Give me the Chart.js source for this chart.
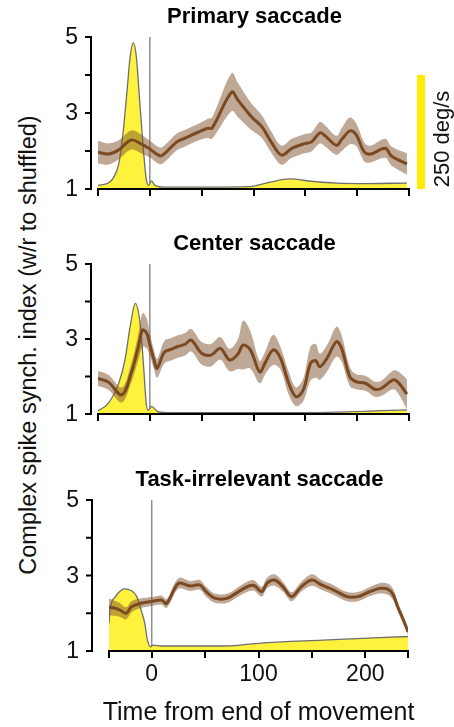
<!DOCTYPE html>
<html lang="en">
<head>
<meta charset="UTF-8">
<title>Complex spike synchrony around saccades</title>
<script src="https://cdn.jsdelivr.net/npm/chart.js"></script>
<style>
    body {
        margin: 0;
        background: #fff;
        width: 454px;
        height: 727px;
        position: relative;
        overflow: hidden;
        font-family: 'Liberation Sans', Arial, Helvetica, sans-serif;
    }
    .panel { position: absolute; left: 0; width: 454px; }
    #box1 { top: 0; height: 203px; }
    #box2 { top: 225px; height: 203px; }
    #box3 { top: 440px; height: 287px; }
    .ytitle {
        position: absolute;
        left: -272px;
        top: 331px;
        width: 600px;
        line-height: 28px;
        text-align: center;
        font-size: 23.5px;
        color: #111;
        transform: rotate(-90deg);
        white-space: nowrap;
    }
</style>
</head>
<body>
<div class="ytitle">Complex spike synch. index (w/r to shuffled)</div>
<div class="panel" id="box1"><canvas id="c1"></canvas></div>
<div class="panel" id="box2"><canvas id="c2"></canvas></div>
<div class="panel" id="box3"><canvas id="c3"></canvas></div>

<script>
// --- data (time in ms from end of movement) ---
const panelTitles = ['Primary saccade', 'Center saccade', 'Task-irrelevant saccade'];
const xTitle = 'Time from end of movement';

const xTicksTop = [-50, 0, 50, 100, 150, 200, 250];
const xTicksBottom = [-40, 0, 50, 100, 150, 200, 240];
const xLabelValues = [0, 100, 200];
const yTicks = [1, 2, 3, 4, 5];
const yLabelValues = [1, 3, 5];

// synchrony index, mean and sem
const p1Time = [-50,-40,-30,-18,-8,0,10,15,26,34,47,56,60,79,85,98,108,117,127,137,150,156,164,169,180,185,193,199,207,213,227,233,248];
const p1Mean = [1.97,1.92,2.03,2.29,2.18,2.05,1.87,1.95,2.24,2.34,2.5,2.6,2.6,3.55,3.34,2.9,2.64,2.24,1.89,2.07,2.2,2.24,2.48,2.4,2.15,2.3,2.53,2.43,1.97,1.92,2.07,1.87,1.66];
const p1Sem = [0.3,0.28,0.25,0.25,0.25,0.22,0.22,0.22,0.22,0.22,0.22,0.25,0.28,0.5,0.45,0.35,0.3,0.28,0.25,0.25,0.25,0.25,0.28,0.28,0.25,0.3,0.35,0.3,0.25,0.22,0.25,0.25,0.28];

const p2Time = [-50,-40,-27,-18,-11,-7,-3,0,4,7,14,20,27,34,40,50,59,68,77,85,90,97,106,111,119,126,134,141,148,155,160,164,171,180,185,193,199,208,217,223,235,240,248];
const p2Mean = [1.95,1.85,1.51,2.09,2.8,3.24,3.15,2.85,2.45,2.22,2.65,2.72,2.8,2.86,2.97,2.62,2.57,2.75,2.44,2.6,2.84,2.71,2.12,2.35,2.71,2.49,1.82,1.46,1.64,2.35,2.42,2.26,2.49,2.93,2.75,1.99,1.86,1.82,1.66,1.68,1.91,1.83,1.53];
const p2Sem = [0.2,0.2,0.2,0.25,0.35,0.45,0.4,0.3,0.25,0.25,0.3,0.3,0.3,0.3,0.3,0.3,0.3,0.3,0.3,0.4,0.65,0.5,0.3,0.3,0.4,0.3,0.3,0.25,0.3,0.45,0.45,0.35,0.35,0.4,0.35,0.25,0.2,0.2,0.2,0.2,0.25,0.3,0.4];

const p3Time = [-40,-30,-24,-19,-11,0,9,14,25,36,45,51,59,71,84,95,103,108,115,123,131,140,150,159,170,183,193,204,214,221,226,230,236,240];
const p3Mean = [2.17,2.09,2.0,2.17,2.26,2.31,2.35,2.26,2.79,2.72,2.75,2.57,2.4,2.4,2.62,2.74,2.57,2.8,2.88,2.7,2.44,2.7,2.88,2.75,2.62,2.44,2.44,2.57,2.66,2.64,2.5,2.2,1.8,1.51];
const p3Sem = [0.22,0.18,0.16,0.15,0.13,0.12,0.12,0.12,0.14,0.13,0.13,0.13,0.12,0.12,0.13,0.14,0.13,0.14,0.15,0.13,0.12,0.13,0.15,0.13,0.13,0.12,0.12,0.12,0.14,0.15,0.15,0.12,0.1,0.08];

// eye velocity (deg/s)
const p1VelTime = [-50,-40,-35,-30,-26,-22,-19,-16,-13,-10,-6,-3.5,-1,1.5,5,15,60,95,114,135,156,180,210,248];
const p1Vel = [8,13,25,55,120,215,290,321,290,200,80,22,8,18,8,4,4,5,14,22,17,13,12,13];

const p2VelTime = [-50,-40,-30,-24,-19,-14,-9,-6,-3.5,-1.5,1.5,8,20,140,248];
const p2Vel = [7,24,68,120,194,246,194,105,24,8,17,5,3,3,9];

const p3VelTime = [-40,-39,-34,-28,-26,-19,-14,-9,-6.5,-4,-1,1,9,66,83,100,160,240];
const p3Vel = [61,91,120,135,137,133,120,83,61,24,9,13,11,11,13,17,24,32];

// the 250 deg/s scale bar spans 3 index units
const barDeg = 250;
const barUnits = 3;
const velToIdx = v => 1 + v * barUnits / barDeg;

const FONT = "'Liberation Sans', Arial, Helvetica, sans-serif";
const BROWN = '#7b4a22';
const BAND = 'rgba(128, 82, 44, 0.5)';
const YELLOW = '#fff23c';

const decor = {
    id: 'decor',
    beforeDatasetsDraw(chart, args, o) {
        const { ctx, scales: { x, y } } = chart;
        const x0 = x.getPixelForValue(0);
        ctx.save();
        ctx.strokeStyle = '#8e8e8e';
        ctx.lineWidth = 1.5;
        ctx.beginPath();
        ctx.moveTo(x0, y.getPixelForValue(5));
        ctx.lineTo(x0, y.getPixelForValue(1));
        ctx.stroke();
        ctx.restore();
    },
    afterDraw(chart, args, o) {
        const { ctx, chartArea: a, scales: { x, y } } = chart;
        const xs = x.getPixelForValue(o.xTicks[0]);
        const xe = x.getPixelForValue(o.xTicks[o.xTicks.length - 1]);
        ctx.save();
        ctx.strokeStyle = '#000';
        ctx.lineWidth = 2;
        // y axis, set off to the left of the data
        const ya = a.left - o.yGap;
        ctx.beginPath();
        ctx.moveTo(ya, y.getPixelForValue(5) - 1);
        ctx.lineTo(ya, y.getPixelForValue(1) + 1);
        yTicks.forEach(v => {
            const py = y.getPixelForValue(v);
            ctx.moveTo(ya, py);
            ctx.lineTo(ya - 6, py);
        });
        ctx.stroke();
        ctx.fillStyle = '#111';
        ctx.font = '23px ' + FONT;
        ctx.textAlign = 'right';
        ctx.textBaseline = 'middle';
        yLabelValues.forEach(v => ctx.fillText(String(v), ya - 13, y.getPixelForValue(v) + 1));

        // x axis line only across the tick span
        ctx.beginPath();
        ctx.moveTo(xs - 1, a.bottom);
        ctx.lineTo(xe + 1, a.bottom);
        ctx.stroke();

        ctx.fillStyle = '#000';
        ctx.textAlign = 'center';
        ctx.font = 'bold 22px ' + FONT;
        ctx.fillText(o.title, (xs + xe) / 2 + 1, a.top - 20);

        if (o.scaleBar) {
            const yb = y.getPixelForValue(1);
            const yt = y.getPixelForValue(velToIdx(barDeg));
            ctx.fillStyle = '#ffec00';
            ctx.fillRect(a.right + 8, yt, 8, yb - yt);
            ctx.translate(a.right + 34, (yt + yb) / 2 + 7);
            ctx.rotate(-Math.PI / 2);
            ctx.fillStyle = '#111';
            ctx.font = '22px ' + FONT;
            ctx.fillText(barDeg + ' deg/s', 0, 0);
            ctx.setTransform(1, 0, 0, 1, 0, 0);
        }
        if (o.xTitle) {
            ctx.fillStyle = '#111';
            ctx.font = '25px ' + FONT;
            ctx.fillText(o.xTitle, (a.left + a.right) / 2, o.xTitleY);
        }
        ctx.restore();
    }
};

const pts = (t, v) => t.map((tt, i) => ({ x: tt, y: v[i] }));

function makePanel(id, p) {
    const upper = p.mean.map((m, i) => m + p.sem[i]);
    const lower = p.mean.map((m, i) => m - p.sem[i]);
    const left = p.xTicks[0], right = p.xTicks[p.xTicks.length - 1];
    return new Chart(document.getElementById(id), {
        type: 'line',
        data: {
            datasets: [
                { data: pts(p.time, p.mean), borderColor: BROWN, borderWidth: 3, pointRadius: 0, fill: false, tension: 0.35 },
                { data: pts(p.time, upper), borderColor: 'rgba(0,0,0,0)', borderWidth: 0, pointRadius: 0, fill: false, tension: 0.35 },
                { data: pts(p.time, lower), borderColor: 'rgba(0,0,0,0)', borderWidth: 0, pointRadius: 0, fill: '-1', backgroundColor: BAND, tension: 0.35 },
                { data: pts(p.velTime, p.vel.map(velToIdx)), borderColor: '#6e6e6e', borderWidth: 1.3, backgroundColor: YELLOW, fill: 'start', pointRadius: 0, cubicInterpolationMode: 'monotone' }
            ]
        },
        options: {
            responsive: true,
            maintainAspectRatio: false,
            animation: false,
            events: [],
            layout: { padding: { left: 0, right: p.padRight, top: p.padTop, bottom: 0 } },
            plugins: {
                legend: { display: false },
                tooltip: { enabled: false },
                decor: { title: p.title, xTicks: p.xTicks, yGap: p.yGap, scaleBar: p.scaleBar, xTitle: p.xTitle, xTitleY: p.xTitleY }
            },
            scales: {
                x: {
                    type: 'linear',
                    min: left,
                    max: right,
                    afterBuildTicks: s => { s.ticks = p.xTicks.map(v => ({ value: v })); },
                    afterFit: s => { s.height = p.xHeight; },
                    grid: { drawOnChartArea: false, drawTicks: true, tickLength: 7, color: '#000', lineWidth: 2 },
                    border: { display: false },
                    ticks: {
                        display: p.showXLabels,
                        autoSkip: false,
                        maxRotation: 0,
                        padding: 3,
                        color: '#111',
                        font: { family: FONT, size: 23 },
                        callback: v => xLabelValues.includes(v) ? String(v) : ''
                    }
                },
                y: {
                    min: 1,
                    max: 5,
                    afterBuildTicks: s => { s.ticks = yTicks.map(v => ({ value: v })); },
                    afterFit: s => { s.width = p.yWidth; },
                    grid: { display: false, drawTicks: false },
                    border: { display: false },
                    ticks: { display: false }
                }
            }
        },
        plugins: [decor]
    });
}

makePanel('c1', {
    title: panelTitles[0], time: p1Time, mean: p1Mean, sem: p1Sem, velTime: p1VelTime, vel: p1Vel,
    xTicks: xTicksTop, yWidth: 98, yGap: 7, padRight: 45, padTop: 37, xHeight: 14,
    showXLabels: false, scaleBar: true
});
makePanel('c2', {
    title: panelTitles[1], time: p2Time, mean: p2Mean, sem: p2Sem, velTime: p2VelTime, vel: p2Vel,
    xTicks: xTicksTop, yWidth: 98, yGap: 7, padRight: 45, padTop: 39, xHeight: 14,
    showXLabels: false, scaleBar: false
});
makePanel('c3', {
    title: panelTitles[2], time: p3Time, mean: p3Mean, sem: p3Sem, velTime: p3VelTime, vel: p3Vel,
    xTicks: xTicksBottom, yWidth: 109, yGap: 17, padRight: 46, padTop: 60, xHeight: 76,
    showXLabels: true, scaleBar: false, xTitle: xTitle, xTitleY: 273
});
</script>
</body>
</html>
